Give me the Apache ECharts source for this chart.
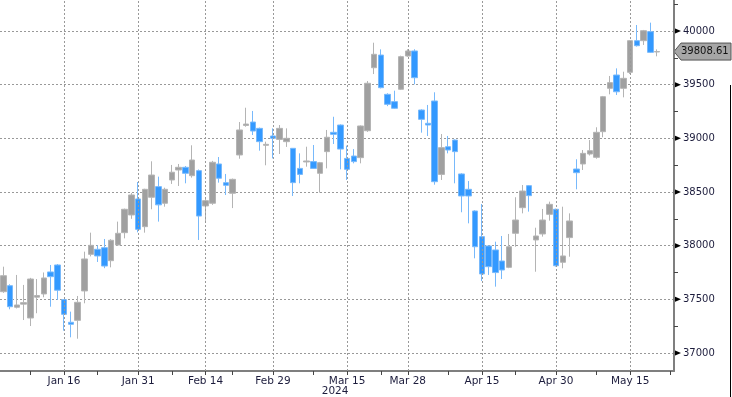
<!DOCTYPE html>
<html>
<head>
<meta charset="utf-8">
<script src="https://cdn.jsdelivr.net/npm/echarts@6/dist/echarts.min.js"></script>
<style>
  html, body { margin: 0; padding: 0; background: #fff; }
  #chart { width: 732px; height: 397px; }
</style>
</head>
<body>
<div id="chart"></div>
<script>
// trading days, two empty slots at the end
const dates = [
  'Jan 2','Jan 3','Jan 4','Jan 5','Jan 8','Jan 9','Jan 10','Jan 11','Jan 12','Jan 16','Jan 17','Jan 18','Jan 19',
  'Jan 22','Jan 23','Jan 24','Jan 25','Jan 26','Jan 29','Jan 30','Jan 31',
  'Feb 1','Feb 2','Feb 5','Feb 6','Feb 7','Feb 8','Feb 9','Feb 12','Feb 13','Feb 14','Feb 15','Feb 16',
  'Feb 20','Feb 21','Feb 22','Feb 23','Feb 26','Feb 27','Feb 28','Feb 29',
  'Mar 1','Mar 4','Mar 5','Mar 6','Mar 7','Mar 8','Mar 11','Mar 12','Mar 13','Mar 14','Mar 15',
  'Mar 18','Mar 19','Mar 20','Mar 21','Mar 22','Mar 25','Mar 26','Mar 27','Mar 28',
  'Apr 1','Apr 2','Apr 3','Apr 4','Apr 5','Apr 8','Apr 9','Apr 10','Apr 11','Apr 12','Apr 15','Apr 16',
  'Apr 17','Apr 18','Apr 19','Apr 22','Apr 23','Apr 24','Apr 25','Apr 26','Apr 29','Apr 30',
  'May 1','May 2','May 3','May 6','May 7','May 8','May 9','May 10','May 13','May 14','May 15',
  'May 16','May 17','May 20','May 21','May 22','May 23'
];

const opens = [
  37571,37627,37426,37455,37326,37520,37550,37755,37820,
  37497,37286,37304,37578,37919,37966,37981,37860,38006,38121,38286,38435,
  38177,38451,38550,38395,38612,38705,38730,38652,38699,38370,38395,38761,38587,38488,38845,39120,39152,39093,38935,39022,
  38990,38969,38907,38720,38780,38783,38674,38876,39056,39124,38813,38835,38820,39071,39658,39776,39410,39342,39457,39767,
  39814,39264,39140,39348,38664,38922,38984,38668,38525,38323,38084,37997,37960,37857,37798,38115,38354,38559,38053,38109,38292,38339,
  37845,38075,38714,38761,38854,38823,39062,39466,39590,39466,39615,39910,39910,39994,39805
];
const closes = [
  37720,37431,37447,37469,37689,37535,37699,37711,37585,
  37360,37267,37472,37876,38003,37904,37810,38050,38115,38339,38472,38152,
  38525,38658,38380,38525,38684,38730,38674,38798,38276,38419,38777,38628,38562,38618,39078,39133,39068,38969,38944,39000,
  39093,39000,38587,38664,38789,38720,38773,39010,39037,38900,38711,38783,39115,39513,39783,39472,39317,39280,39761,39814,
  39565,39177,39124,38596,38913,38891,38876,38463,38463,37990,37736,37804,37749,37773,37990,38239,38509,38466,38090,38239,38385,37813,
  37904,38230,38680,38860,38885,39056,39388,39519,39434,39559,39910,39863,40003,39801,39808.61
];
const lows = [
  37560,37407,37415,37307,37251,37370,37519,37431,37494,
  37208,37146,37133,37463,37900,37848,37790,37798,38000,38068,38250,38124,
  38121,38339,38224,38363,38575,38556,38581,38634,38053,38211,38380,38587,38472,38350,38810,39108,39031,38885,38749,38813,
  38854,38920,38463,38581,38736,38715,38494,38720,38947,38711,38612,38767,38767,39060,39599,39465,39300,39275,39450,39760,
  39503,39053,39022,38568,38612,38860,38581,38311,38208,37882,37671,37727,37618,37689,37790,37990,38301,38317,37757,38084,38233,37805,
  37789,37897,38525,38705,38840,38810,39010,39410,39404,39382,39600,39855,39870,39795,39764
];
const highs = [
  37804,37640,37727,37634,37700,37689,37750,37820,37829,
  37500,37385,37531,37944,38121,38003,38062,38060,38224,38345,38490,38593,
  38530,38786,38643,38540,38752,38761,38742,38935,38710,38450,38790,38826,38668,38625,39152,39285,39255,39100,38969,39093,
  39124,39093,38910,38860,38922,38938,38780,39078,39201,39130,38932,38900,39120,39534,39891,39829,39420,39444,39770,39830,
  39830,39270,39311,39429,39040,39022,38990,38675,38602,38330,38388,38000,38037,38090,38109,38451,38565,38565,38167,38342,38410,38345,
  38363,38301,38805,38891,38984,39103,39395,39581,39652,39621,39915,40056,40010,40078,39829
];

const labelDates = ['Jan 16','Jan 31','Feb 14','Feb 29','Mar 15','Mar 28','Apr 15','Apr 30','May 15'];
const tickDates = ['Jan 8','Jan 16','Jan 23','Jan 31','Feb 7','Feb 14','Feb 21','Feb 29','Mar 8','Mar 15',
  'Mar 22','Mar 28','Apr 8','Apr 15','Apr 22','Apr 30','May 8','May 15','May 23'];
const yTicks = [37000, 37500, 38000, 38500, 39000, 39500, 40000];
const yMinorTicks = [37250, 37750, 38250, 38750, 39250, 39750, 40250];
const lastPrice = 39808.61;
const yearLabel = '2024';

const FONT = '"DejaVu Sans", Verdana, sans-serif';
const TEXT = '#1c1c3c';
const gridRight = 58;
const yMin = 36832, yMax = 40289;

const chart = echarts.init(document.getElementById('chart'));

const candles = dates.map((d, i) =>
  i < opens.length ? [opens[i], closes[i], lows[i], highs[i]] : '-');

chart.setOption({
  animation: false,
  backgroundColor: '#fff',
  grid: { left: 0, right: gridRight, top: 0, bottom: 26 },
  xAxis: {
    type: 'category',
    data: dates,
    boundaryGap: true,
    axisLine: { lineStyle: { color: '#7f7f7f', width: 2 } },
    axisTick: {
      show: true, alignWithLabel: true, length: 4,
      interval: (i, v) => tickDates.includes(v),
      lineStyle: { color: '#444', width: 1 }
    },
    axisLabel: {
      interval: (i, v) => labelDates.includes(v),
      color: TEXT, fontSize: 10.5, fontFamily: FONT, margin: 5
    },
    splitLine: { show: false }
  },
  yAxis: [
    {
      type: 'value', position: 'right', min: yMin, max: yMax,
      axisLine: { show: true, lineStyle: { color: '#7f7f7f', width: 2 } },
      axisTick: { show: false, customValues: yTicks },
      axisLabel: {
        customValues: yTicks, margin: 9, color: TEXT, fontSize: 10, fontFamily: FONT,
        formatter: v => String(v)
      },
      splitLine: { show: true, lineStyle: { color: '#999', type: [2, 2], width: 1 } }
    },
    {
      type: 'value', position: 'right', min: yMin, max: yMax,
      axisLine: { show: false },
      axisTick: { show: true, customValues: yMinorTicks, length: 4, lineStyle: { color: '#444' } },
      axisLabel: { show: false },
      splitLine: { show: false }
    }
  ],
  series: [{
    type: 'candlestick',
    data: candles,
    barWidth: 6,
    itemStyle: {
      color: '#a0a0a0', color0: '#3399ff',
      borderColor: '#b4b4b4', borderColor0: '#78b9fb', borderWidth: 1
    },
    markLine: {
      silent: true, symbol: ['none', 'none'],
      label: { show: false },
      lineStyle: { color: '#999', type: [2, 2], width: 1 },
      data: labelDates.map(d => ({ xAxis: d }))
    }
  }]
});

// pointers on the value axis, price tag, year label
const ax = chart.getWidth() - gridRight;
const py = chart.convertToPixel({ yAxisIndex: 0 }, lastPrice);
const mx = chart.convertToPixel({ xAxisIndex: 0 }, 'Mar 15');

const pointers = yTicks.map(v => {
  const y = chart.convertToPixel({ yAxisIndex: 0 }, v);
  return {
    type: 'polygon',
    shape: { points: [[ax, y - 3], [ax + 7, y], [ax, y + 3]] },
    style: { fill: '#000' }
  };
});

chart.setOption({
  graphic: pointers.concat([
    {
      type: 'polygon',
      shape: { points: [[ax, py], [ax + 7, py - 8.5], [ax + 57, py - 8.5], [ax + 57, py + 8.5], [ax + 7, py + 8.5]] },
      style: { fill: '#a6a6a6', stroke: '#555', lineWidth: 1 }
    },
    {
      type: 'text', x: ax + 7, y: py,
      style: { text: lastPrice.toFixed(2), fill: '#111', font: '10px ' + FONT, textVerticalAlign: 'middle' }
    },
    {
      type: 'text', x: mx - 12, y: 391,
      style: { text: yearLabel, fill: TEXT, font: '10.5px ' + FONT, textAlign: 'center', textVerticalAlign: 'middle' }
    },
    {
      type: 'line', shape: { x1: 730.5, y1: 85, x2: 730.5, y2: 397 },
      style: { stroke: '#000', lineWidth: 1 }
    }
  ])
});
</script>
</body>
</html>
